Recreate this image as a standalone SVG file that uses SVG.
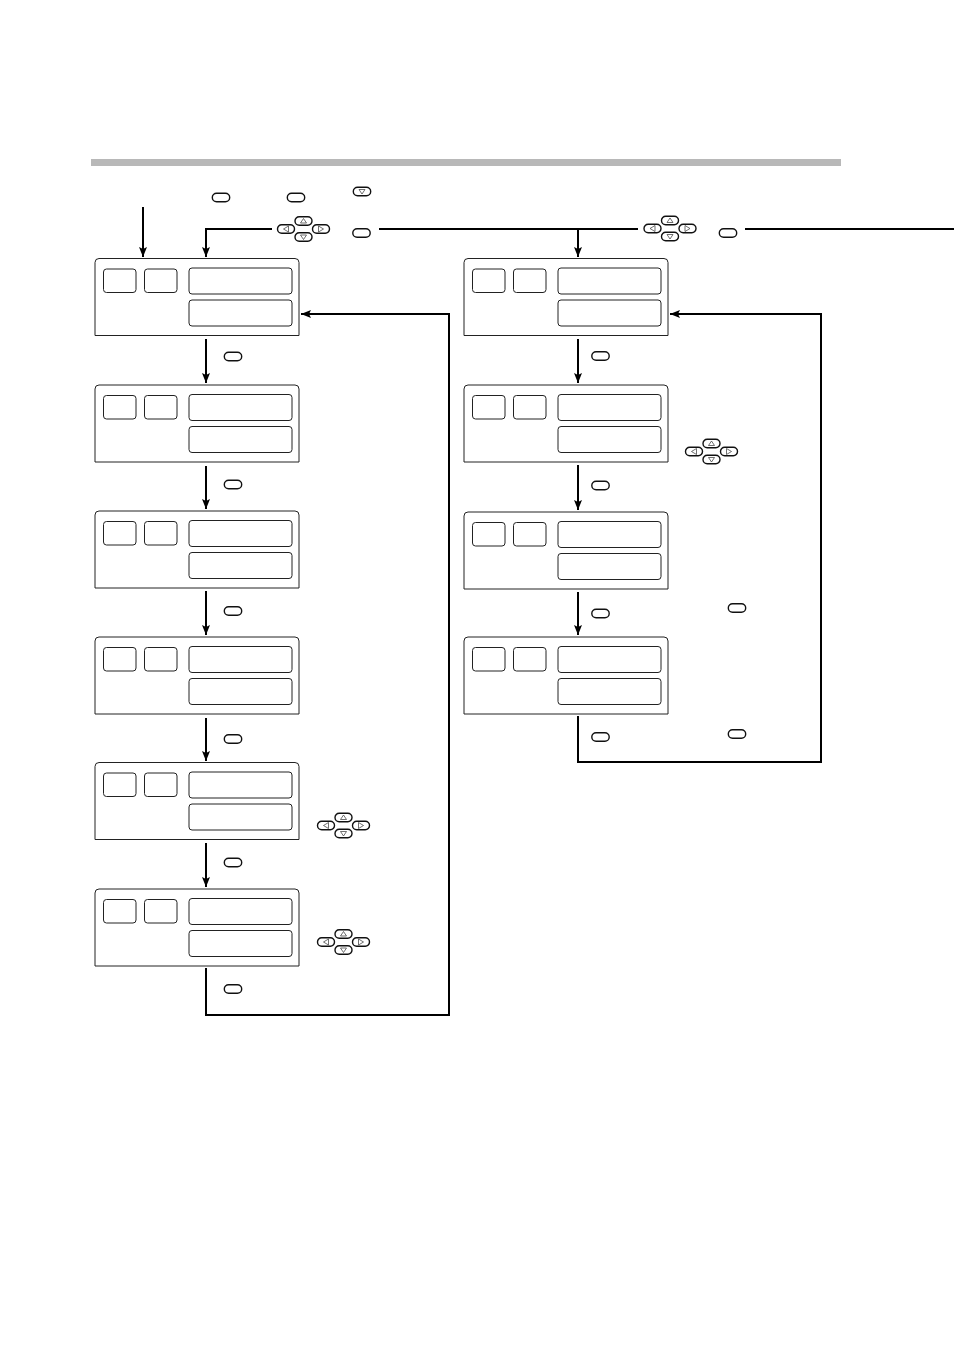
<svg xmlns="http://www.w3.org/2000/svg" width="954" height="1349" viewBox="0 0 954 1349">
<style>
.p{fill:#fff;stroke:#222;stroke-width:1}
.c{fill:none;stroke:#000;stroke-width:2}
.k{fill:#fff;stroke:#111;stroke-width:1.4}
.t{fill:none;stroke:#333;stroke-width:.7}
</style>
<defs>
<marker id="a" markerUnits="userSpaceOnUse" markerWidth="12" markerHeight="10" refX="10" refY="4" orient="auto"><path d="M0 0L10 4L0 8L2 4Z" fill="#000"/></marker>
<g id="panel">
<path class="p" d="M.5 77.500V4.500Q.5 .5 4.500 .5H200.500Q204.500 .5 204.500 4.500V77.500Z"/>
<rect class="p" x="9" y="11" width="32.500" height="23.500" rx="3"/>
<rect class="p" x="50" y="11" width="32.500" height="23.500" rx="3"/>
<rect class="p" x="94.500" y="10" width="103" height="26" rx="3"/>
<rect class="p" x="94.500" y="42" width="103" height="26" rx="3"/>
</g>
<rect id="key" class="k" x="-8.700" y="-4.300" width="17.400" height="8.600" rx="4.300"/>
<g id="ck"><rect class="k" x="-8.500" y="-4.200" width="17" height="8.400" rx="4.200"/></g>
<g id="cluster">
<use href="#ck" x="0" y="-8"/><path class="t" d="M-3 -6L0 -10.500L3 -6Z"/>
<use href="#ck" x="-17.500" y="0"/><path class="t" d="M-15 -3L-20 0L-15 3Z"/>
<use href="#ck" x="17.500" y="0"/><path class="t" d="M15 -3L20 0L15 3Z"/>
<use href="#ck" x="0" y="8"/><path class="t" d="M-3 6L0 10.500L3 6Z"/>
</g>
</defs>
<rect id="rule" x="91" y="159" width="750" height="7" fill="#b8b8b8"/>
<g id="connectors">
<path class="c" marker-end="url(#a)" d="M143 207V257"/>
<path class="c" marker-end="url(#a)" d="M272 229H206V257"/>
<path class="c" d="M379 229H638"/>
<path class="c" marker-end="url(#a)" d="M578 229V257"/>
<path class="c" d="M745 229H954"/>
<path class="c" marker-end="url(#a)" d="M206 339V383"/>
<path class="c" marker-end="url(#a)" d="M206 466V509"/>
<path class="c" marker-end="url(#a)" d="M206 591V635"/>
<path class="c" marker-end="url(#a)" d="M206 718V761"/>
<path class="c" marker-end="url(#a)" d="M206 843V887"/>
<path class="c" marker-end="url(#a)" d="M206 968V1015H449V314H301"/>
<path class="c" marker-end="url(#a)" d="M578 339V383"/>
<path class="c" marker-end="url(#a)" d="M578 465V510"/>
<path class="c" marker-end="url(#a)" d="M578 592V635"/>
<path class="c" marker-end="url(#a)" d="M578 716V762H821V314H670"/>
</g>
<g id="node-l1"><use href="#panel" x="94.500" y="258"/></g>
<g id="node-l2"><use href="#panel" x="94.500" y="384.500"/></g>
<g id="node-l3"><use href="#panel" x="94.500" y="510.500"/></g>
<g id="node-l4"><use href="#panel" x="94.500" y="636.500"/></g>
<g id="node-l5"><use href="#panel" x="94.500" y="762"/></g>
<g id="node-l6"><use href="#panel" x="94.500" y="888.500"/></g>
<g id="node-r1"><use href="#panel" x="463.500" y="258"/></g>
<g id="node-r2"><use href="#panel" x="463.500" y="384.500"/></g>
<g id="node-r3"><use href="#panel" x="463.500" y="511.500"/></g>
<g id="node-r4"><use href="#panel" x="463.500" y="636.500"/></g>
<g id="keys">
<use href="#key" x="221" y="197.500"/>
<use href="#key" x="296" y="197.500"/>
<use href="#key" x="362" y="191.500"/><path class="t" d="M359 189.500L362 194L365 189.500Z"/>
<use href="#key" x="361.500" y="233"/>
<use href="#key" x="728" y="233"/>
<use href="#key" x="233" y="356.500"/>
<use href="#key" x="233" y="484.500"/>
<use href="#key" x="233" y="611"/>
<use href="#key" x="233" y="739"/>
<use href="#key" x="233" y="862.500"/>
<use href="#key" x="233" y="989"/>
<use href="#key" x="600.500" y="356"/>
<use href="#key" x="600.500" y="485.500"/>
<use href="#key" x="600.500" y="613.500"/>
<use href="#key" x="600.500" y="737"/>
<use href="#key" x="737" y="608"/>
<use href="#key" x="737" y="734"/>
<use href="#cluster" x="303.500" y="229"/>
<use href="#cluster" x="670" y="228.500"/>
<use href="#cluster" x="711.500" y="451.500"/>
<use href="#cluster" x="343.500" y="825.500"/>
<use href="#cluster" x="343.500" y="942"/>
</g>
</svg>
